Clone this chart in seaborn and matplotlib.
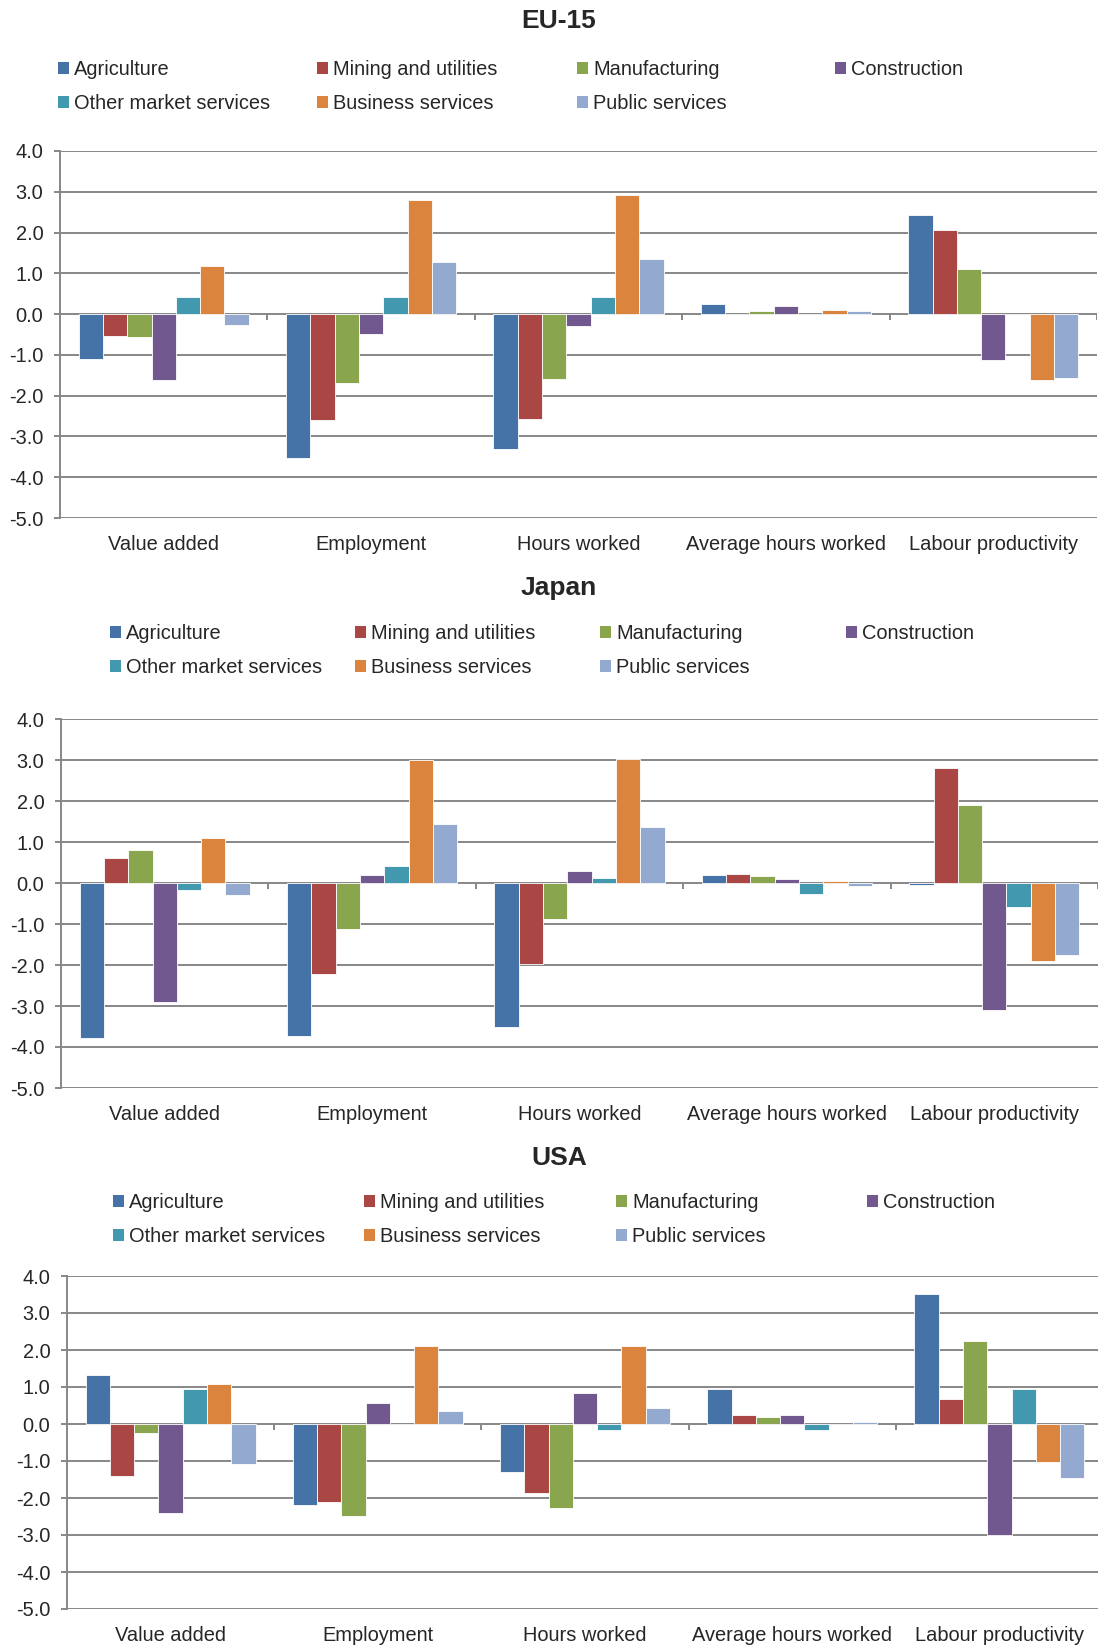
import matplotlib
matplotlib.use("Agg")
import matplotlib.pyplot as plt
from matplotlib.patches import Patch
import pandas as pd
import seaborn as sns

measures = ["Value added", "Employment", "Hours worked",
            "Average hours worked", "Labour productivity"]
sectors = ["Agriculture", "Mining and utilities", "Manufacturing", "Construction",
           "Other market services", "Business services", "Public services"]
sector_colors = ["#4572A7", "#AA4643", "#89A54E", "#71588F",
                 "#4198AF", "#DB843D", "#93A9CF"]
y_ticks = [-5, -4, -3, -2, -1, 0, 1, 2, 3, 4]

# growth rates, one row per sector, one column per measure
eu15_values = [
    [-1.10, -3.53, -3.30, 0.24, 2.42],
    [-0.53, -2.59, -2.56, 0.01, 2.06],
    [-0.57, -1.69, -1.60, 0.07, 1.10],
    [-1.61, -0.49, -0.29, 0.20, -1.12],
    [0.43, 0.41, 0.43, 0.00, 0.00],
    [1.19, 2.81, 2.92, 0.10, -1.62],
    [-0.26, 1.28, 1.35, 0.07, -1.56],
]
japan_values = [
    [-3.78, -3.73, -3.50, 0.20, -0.05],
    [0.60, -2.21, -1.97, 0.22, 2.80],
    [0.81, -1.11, -0.89, 0.18, 1.91],
    [-2.90, 0.19, 0.29, 0.10, -3.10],
    [-0.17, 0.41, 0.12, -0.28, -0.58],
    [1.09, 3.00, 3.03, 0.04, -1.91],
    [-0.30, 1.45, 1.37, -0.07, -1.76],
]
usa_values = [
    [1.32, -2.20, -1.30, 0.94, 3.52],
    [-1.41, -2.11, -1.86, 0.24, 0.68],
    [-0.25, -2.48, -2.28, 0.18, 2.23],
    [-2.41, 0.58, 0.84, 0.24, -3.01],
    [0.94, 0.00, -0.17, -0.16, 0.94],
    [1.07, 2.11, 2.11, 0.00, -1.03],
    [-1.09, 0.35, 0.44, 0.06, -1.45],
]

sns.set_theme(style="white")
plt.rcParams["font.family"] = ["Liberation Sans", "DejaVu Sans"]
plt.rcParams["axes.unicode_minus"] = False

W, H = 1098, 1648
fig = plt.figure(figsize=(W / 100, H / 100), dpi=100)
GRID = "#878787"
FS = 14.4


def to_frame(values):
    rows = []
    for s, row in zip(sectors, values):
        for m, v in zip(measures, row):
            rows.append({"sector": s, "measure": m, "value": v})
    return pd.DataFrame(rows)


def panel(title, values, left, right, top, bottom, title_y, leg_x, leg_y):
    ax = fig.add_axes([left / W, 1 - bottom / H, (right - left) / W, (bottom - top) / H])
    sns.barplot(data=to_frame(values), x="measure", y="value", hue="sector",
                order=measures, hue_order=sectors, palette=sector_colors,
                saturation=1, width=0.82, errorbar=None, edgecolor="white",
                linewidth=0.6, legend=False, ax=ax)
    ax.set_xlim(-0.5, len(measures) - 0.5)
    ax.set_ylim(-5, 4)
    ax.set_yticks(y_ticks)
    ax.set_yticklabels([f"{t:.1f}" for t in y_ticks])
    ax.set_xlabel("")
    ax.set_ylabel("")
    ax.set_axisbelow(True)
    ax.grid(axis="y", color=GRID, linewidth=1.4)
    ax.grid(axis="x", visible=False)
    for side in ("top", "right", "bottom"):
        ax.spines[side].set_visible(False)
    ax.spines["left"].set_color(GRID)
    ax.spines["left"].set_linewidth(1.4)
    ax.tick_params(axis="y", length=4, width=1.4, color=GRID, pad=8,
                   labelsize=FS, left=True)
    ax.tick_params(axis="x", length=0, pad=12, labelsize=FS)
    # category separators hanging below the zero line
    ax.vlines([i + 0.5 for i in range(len(measures))], 0, -0.15,
              color=GRID, linewidth=1.4)

    fig.text(559 / W, 1 - title_y / H, title, ha="center", va="center",
             fontsize=19, fontweight="bold")

    handles = [Patch(facecolor=c, edgecolor="none") for c in sector_colors]
    columns = [[0, 4], [1, 5], [2, 6], [3]]
    for x, idx in zip(leg_x, columns):
        fig.legend([handles[i] for i in idx], [sectors[i] for i in idx],
                   loc="upper left", bbox_to_anchor=(x / W, 1 - (leg_y - 6) / H),
                   frameon=False, borderpad=0, borderaxespad=0,
                   handlelength=0.55, handleheight=0.55, handletextpad=0.25,
                   labelspacing=0.77, fontsize=FS)
    return ax


panel("EU-15", eu15_values, 60, 1097, 151, 518, 21, [58, 317, 577, 835], 66)
panel("Japan", japan_values, 61, 1098, 719, 1088, 588, [110, 355, 600, 846], 630)
panel("USA", usa_values, 67, 1103, 1276, 1609, 1158, [113, 364, 616, 867], 1199)

fig.savefig("out.png", dpi=100)
